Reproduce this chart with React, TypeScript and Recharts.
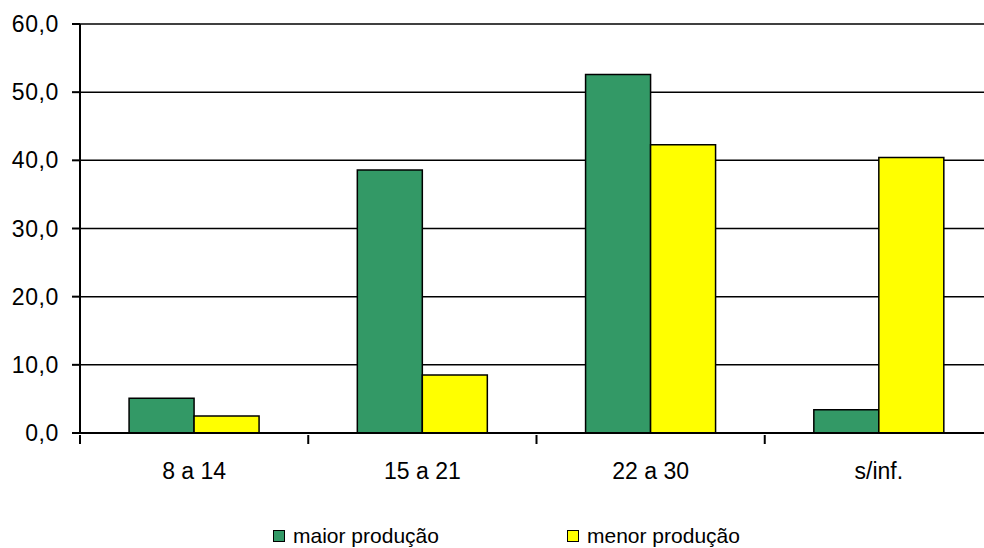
import { Bar, BarChart, CartesianGrid, XAxis, YAxis } from 'recharts';

const categories = ['8 a 14', '15 a 21', '22 a 30', 's/inf.'];
const maiorProducao = [5.1, 38.6, 52.6, 3.4];
const menorProducao = [2.5, 8.5, 42.3, 40.4];
const seriesNames = ['maior produção', 'menor produção'];
const seriesColors = ['#339966', '#ffff00'];
const yTicks = [0, 10, 20, 30, 40, 50, 60];

const data = categories.map((c, i) => ({
  cat: c,
  maior: maiorProducao[i],
  menor: menorProducao[i],
}));

const FONT = '"Liberation Sans", Arial, sans-serif';
const CHART_W = 1000;
const PLOT_LEFT = 80;
const PLOT_RIGHT_MARGIN = 7;
const HALF_BAND = (CHART_W - PLOT_LEFT - PLOT_RIGHT_MARGIN) / categories.length / 2;

function fmt(v: number): string {
  return v.toFixed(1).replace('.', ',');
}

function XTick(props: any) {
  const { x, y, payload } = props;
  const left = x - HALF_BAND;
  return (
    <g>
      <line x1={left} y1={y} x2={left} y2={y + 9} stroke="#000" strokeWidth={2} />
      <text
        x={x}
        y={y + 36}
        textAnchor="middle"
        dominantBaseline="central"
        fontSize={23}
        fontFamily={FONT}
        fill="#000"
      >
        {payload.value}
      </text>
    </g>
  );
}

function YTick(props: any) {
  const { x, y, payload } = props;
  return (
    <text
      x={x}
      y={y}
      textAnchor="end"
      dominantBaseline="central"
      fontSize={23}
      letterSpacing={0.6}
      fontFamily={FONT}
      fill="#000"
    >
      {fmt(Number(payload.value))}
    </text>
  );
}

export default function App() {
  return (
    <div
      style={{
        position: 'absolute',
        left: 0,
        top: 0,
        width: 984,
        height: 548,
        overflow: 'hidden',
        background: '#fff',
        fontFamily: FONT,
      }}
    >
      <BarChart
        width={CHART_W}
        height={548}
        data={data}
        margin={{ top: 24, right: PLOT_RIGHT_MARGIN, left: 0, bottom: 55 }}
        barCategoryGap="21.5%"
        barGap={0}
      >
        <CartesianGrid vertical={false} stroke="#000" strokeWidth={1.5} />
        <XAxis
          dataKey="cat"
          height={60}
          tickSize={0}
          tickLine={false}
          axisLine={{ stroke: '#000', strokeWidth: 2 }}
          tick={<XTick />}
          interval={0}
        />
        <YAxis
          width={PLOT_LEFT}
          domain={[0, 60]}
          ticks={yTicks}
          interval={0}
          tickSize={8}
          tickMargin={13}
          tickLine={{ stroke: '#000', strokeWidth: 2 }}
          axisLine={{ stroke: '#000', strokeWidth: 2 }}
          tick={<YTick />}
        />
        <Bar
          dataKey="maior"
          name={seriesNames[0]}
          fill={seriesColors[0]}
          stroke="#000"
          strokeWidth={1.5}
          isAnimationActive={false}
        />
        <Bar
          dataKey="menor"
          name={seriesNames[1]}
          fill={seriesColors[1]}
          stroke="#000"
          strokeWidth={1.5}
          isAnimationActive={false}
        />
      </BarChart>
      {seriesNames.map((name, i) => (
        <div
          key={name}
          style={{
            position: 'absolute',
            left: i === 0 ? 273 : 567,
            top: 524,
            display: 'flex',
            alignItems: 'center',
            fontSize: 21,
            color: '#000',
            whiteSpace: 'nowrap',
          }}
        >
          <span
            style={{
              display: 'inline-block',
              width: 10,
              height: 10,
              border: '1.5px solid #000',
              background: seriesColors[i],
              marginRight: 8,
            }}
          />
          {name}
        </div>
      ))}
    </div>
  );
}
